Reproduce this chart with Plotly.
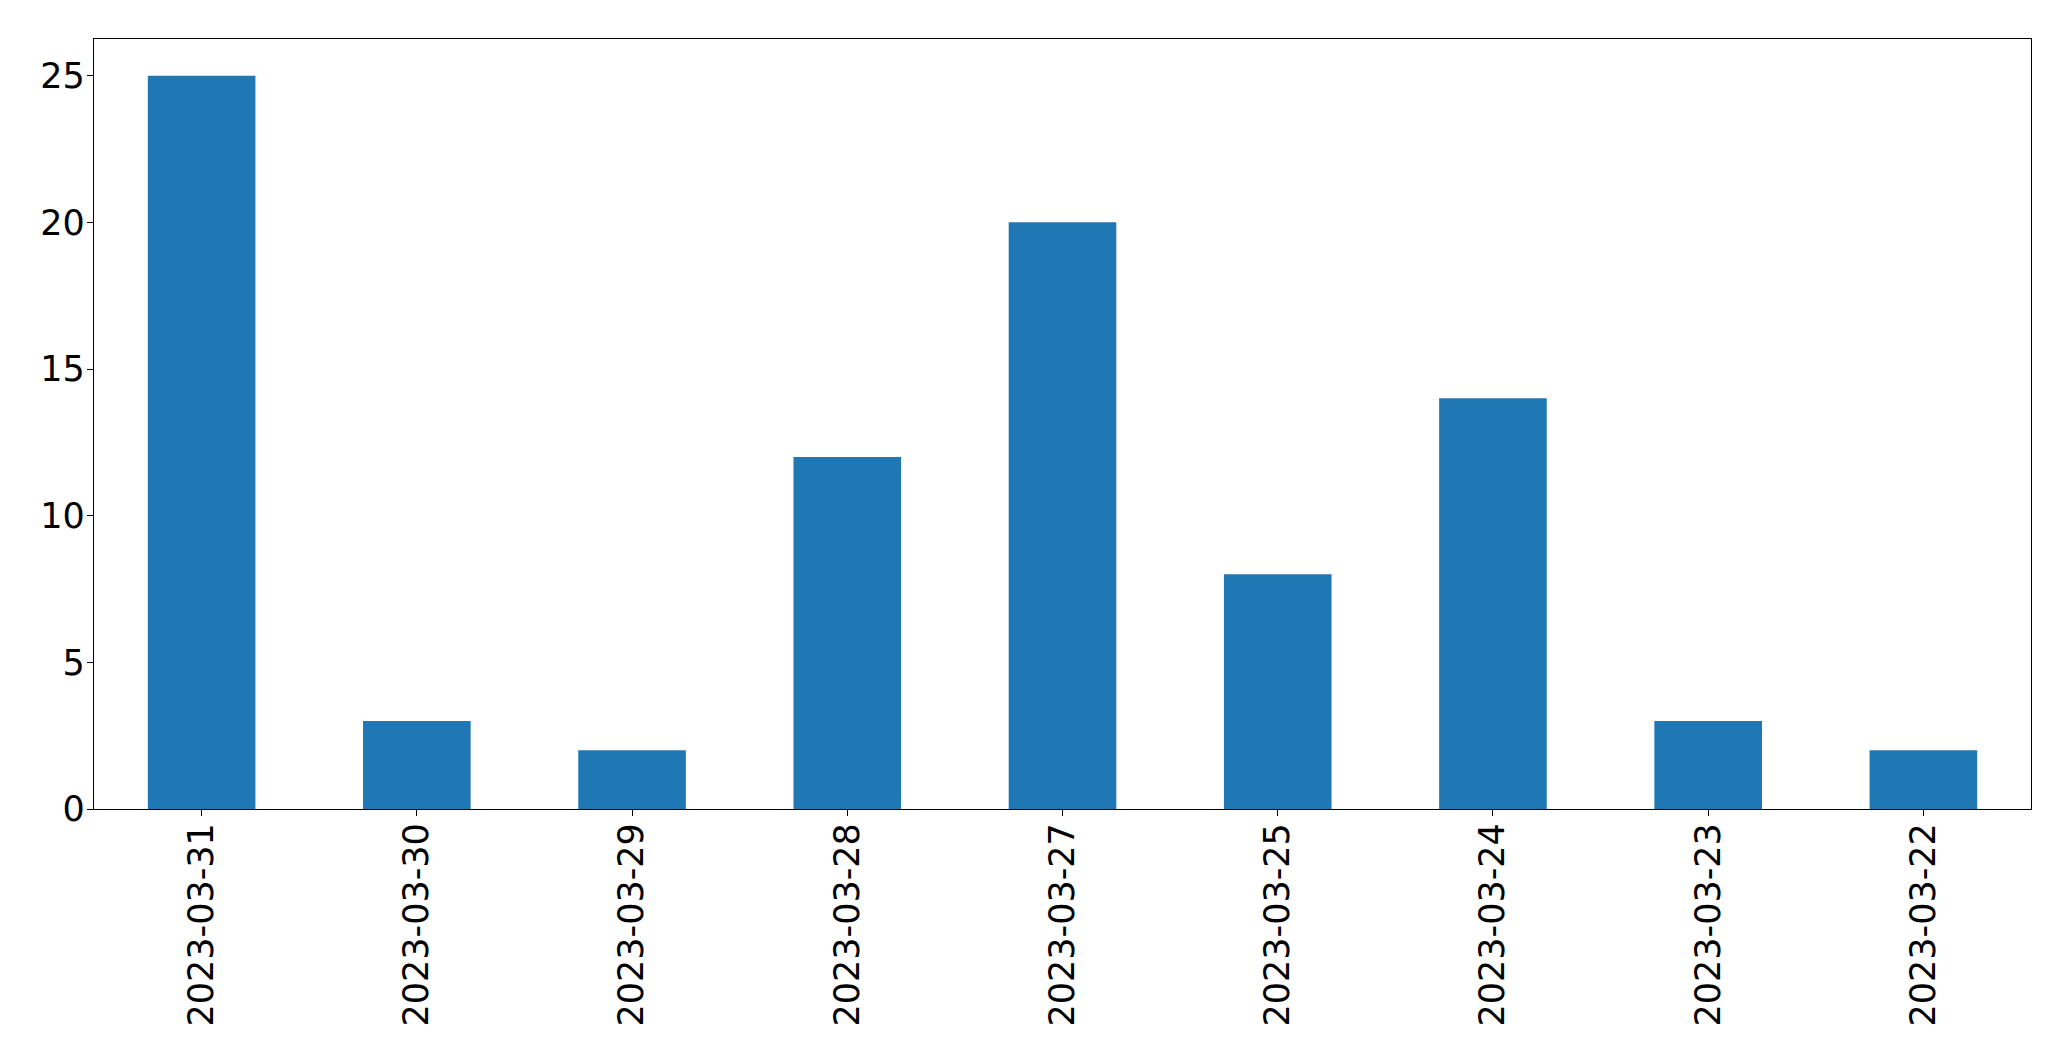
import plotly.graph_objects as go

dates = ["2023-03-31", "2023-03-30", "2023-03-29", "2023-03-28", "2023-03-27",
         "2023-03-25", "2023-03-24", "2023-03-23", "2023-03-22"]
counts = [25, 3, 2, 12, 20, 8, 14, 3, 2]
y_ticks = [0, 5, 10, 15, 20, 25]

fig = go.Figure(go.Bar(x=dates, y=counts, marker_color="#1f77b4",
                       marker_line_width=0, width=0.5))

font = dict(family="DejaVu Sans", size=35, color="black")
fig.update_layout(
    width=2063, height=1053,
    margin=dict(l=86, r=40, t=31, b=252),
    plot_bgcolor="white", paper_bgcolor="white",
    showlegend=False, bargap=0.5,
)
fig.update_xaxes(type="category", range=[-0.5, len(dates) - 0.5], automargin=False,
                 showline=True, linecolor="black", linewidth=1.3, mirror=True,
                 ticks="outside", ticklen=6, tickwidth=1.3, tickcolor="black",
                 tickangle=-90, tickfont=font, showgrid=False, ticklabelstandoff=-7)
fig.update_yaxes(range=[0, 26.25], tickvals=y_ticks, automargin=False,
                 showline=True, linecolor="black", linewidth=1.3, mirror=True,
                 ticks="outside", ticklen=6, tickwidth=1.3, tickcolor="black",
                 tickfont=font, showgrid=False, zeroline=False, ticklabelstandoff=-5)

fig.write_html("out.html")
